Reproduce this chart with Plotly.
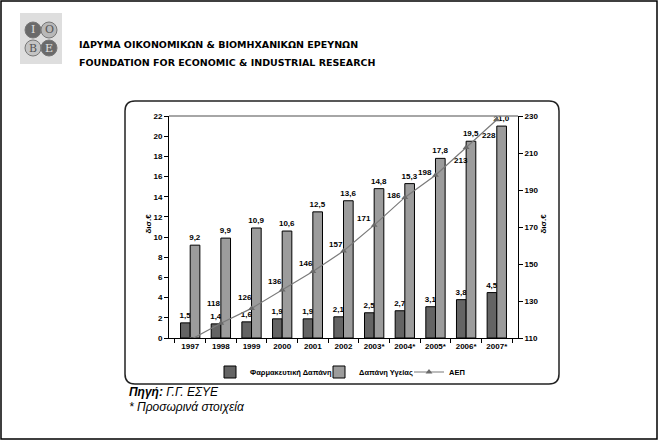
import plotly.graph_objects as go

years = ["1997", "1998", "1999", "2000", "2001", "2002", "2003*", "2004*", "2005*", "2006*", "2007*"]
pharma = [1.5, 1.4, 1.6, 1.9, 1.9, 2.1, 2.5, 2.7, 3.1, 3.8, 4.5]
health = [9.2, 9.9, 10.9, 10.6, 12.5, 13.6, 14.8, 15.3, 17.8, 19.5, 21.0]
gdp = [109, 118, 126, 136, 146, 157, 171, 186, 198, 213, 228]
# label offsets (pixels) for the GDP values
gdp_dx = [0, -7, -7, -7, -7, -8, -10, -11, -10, -5, -8]
gdp_dy = [0, 20, 11, 8, 8, 7, 7, 2, 3, -13, -16]

W, H = 659, 441
PL, PR, PT, PB = 169, 518, 116, 338


def X(px):
    return (px - PL) / (PR - PL)


def Y(py):
    return (PB - py) / (PB - PT)


def fmt(v):
    return f"{v:.1f}".replace(".", ",")


FONT = "Liberation Sans, Arial, sans-serif"
lblfont = dict(size=8, color="#000", family=FONT, weight="bold")

fig = go.Figure()
fig.add_trace(go.Bar(
    x=years, y=pharma, name="Φαρμακευτική Δαπάνη", legend="legend",
    marker=dict(color="#646464", line=dict(color="#000000", width=1)),
    text=[fmt(v) for v in pharma], textposition="outside", constraintext="none",
    textfont=lblfont, cliponaxis=False,
))
fig.add_trace(go.Bar(
    x=years, y=health, name="Δαπάνη Υγείας", legend="legend2",
    marker=dict(color="#9c9c9c", line=dict(color="#000000", width=1)),
    text=[fmt(v) for v in health], textposition="outside", constraintext="none",
    textfont=lblfont, cliponaxis=False,
))
fig.add_trace(go.Scatter(
    x=years, y=gdp, name="ΑΕΠ", yaxis="y2", mode="lines+markers", legend="legend3",
    line=dict(color="#7a7a7a", width=1.2),
    marker=dict(symbol="triangle-up", size=6, color="#6a6a6a"),
))

tickfont = dict(size=8, color="#000", family=FONT, weight="bold")
legfont = dict(size=7.5, color="#000", family=FONT, weight="bold")


def leg(px):
    return dict(orientation="h", x=X(px), y=Y(372), xanchor="left", yanchor="middle",
                font=legfont, itemwidth=30, bgcolor="rgba(0,0,0,0)")


fig.update_layout(
    width=W, height=H,
    margin=dict(l=PL, r=W - PR, t=PT, b=H - PB, pad=0, autoexpand=False),
    paper_bgcolor="white", plot_bgcolor="white",
    barmode="group", bargap=0.37, bargroupgap=0,
    showlegend=True,
    legend=leg(210), legend2=leg(319), legend3=leg(409),
    xaxis=dict(type="category", categoryorder="array", categoryarray=years,
               showgrid=False, showline=True, linecolor="#000", linewidth=1, automargin=False,
               ticks="outside", ticklen=4, tickcolor="#000", tickson="boundaries", tickangle=0,
               tickfont=tickfont, fixedrange=True),
    yaxis=dict(range=[0, 22], dtick=2, showgrid=False, showline=True, linecolor="#000",
               linewidth=1, ticks="outside", ticklen=4, tickcolor="#000", automargin=False,
               tickfont=tickfont, zeroline=False),
    yaxis2=dict(range=[110, 230], tick0=110, dtick=20, overlaying="y", side="right", showgrid=False,
                showline=True, linecolor="#000", linewidth=1, ticks="outside", ticklen=4,
                tickcolor="#000", tickfont=tickfont, zeroline=False, automargin=False),
)

shapes = []
# outer page border
shapes.append(dict(type="rect", xref="paper", yref="paper", x0=X(1), x1=X(657), y0=Y(439), y1=Y(1),
                   line=dict(color="#000", width=1.5), layer="below"))
# rounded chart frame
x0, x1, y0, y1 = 125, 559, 101, 384
r = 10
path = (f"M {X(x0 + r)} {Y(y0)} L {X(x1 - r)} {Y(y0)} Q {X(x1)} {Y(y0)} {X(x1)} {Y(y0 + r)} "
        f"L {X(x1)} {Y(y1 - r)} Q {X(x1)} {Y(y1)} {X(x1 - r)} {Y(y1)} "
        f"L {X(x0 + r)} {Y(y1)} Q {X(x0)} {Y(y1)} {X(x0)} {Y(y1 - r)} "
        f"L {X(x0)} {Y(y0 + r)} Q {X(x0)} {Y(y0)} {X(x0 + r)} {Y(y0)} Z")
shapes.append(dict(type="path", xref="paper", yref="paper", path=path,
                   line=dict(color="#222", width=1.5), layer="below"))
# top gray plot border
shapes.append(dict(type="line", xref="paper", yref="paper", x0=0, x1=1, y0=1, y1=1,
                   line=dict(color="#888", width=1.5)))
# logo
shapes.append(dict(type="rect", xref="paper", yref="paper", x0=X(20), x1=X(62), y0=Y(64), y1=Y(13),
                   fillcolor="#dedede", line=dict(width=0), layer="below"))
circ = [(33, 30, "#6a6a6a", "Ι", "#e0e0e0"), (49, 30, "#b8b8b8", "Ο", "#555"),
        (33, 48, "#c4c4c4", "Β", "#555"), (49, 48, "#6a6a6a", "Ε", "#e0e0e0")]
annotations = []
for cx, cy, col, letter, tcol in circ:
    shapes.append(dict(type="circle", xref="paper", yref="paper", x0=X(cx - 8), x1=X(cx + 8),
                       y0=Y(cy + 8), y1=Y(cy - 8), fillcolor=col, line=dict(color="#777", width=1)))
for cx, cy, col, letter, tcol in circ:
    annotations.append(dict(x=X(cx), y=Y(cy), xref="paper", yref="paper", text=letter,
                            xanchor="center", yanchor="middle",
                            showarrow=False, font=dict(size=11, color=tcol, family="DejaVu Serif")))

# GDP value labels
for i, (v, dx, dy) in enumerate(zip(gdp, gdp_dx, gdp_dy)):
    if v < 110:
        continue
    annotations.append(dict(x=i, y=v, xref="x", yref="y2", text=str(v), showarrow=False,
                            xshift=dx, yshift=dy, xanchor="center", yanchor="middle", font=lblfont))

hfont = dict(size=9.5, color="#000", family="DejaVu Sans", weight="bold")
annotations.append(dict(x=X(77), y=Y(44), xref="paper", yref="paper", xanchor="left", yanchor="middle",
                        text="ΙΔΡΥΜΑ ΟΙΚΟΝΟΜΙΚΩΝ &amp; ΒΙΟΜΗΧΑΝΙΚΩΝ ΕΡΕΥΝΩΝ", showarrow=False, font=hfont))
annotations.append(dict(x=X(77), y=Y(62), xref="paper", yref="paper", xanchor="left", yanchor="middle",
                        text="FOUNDATION FOR ECONOMIC &amp; INDUSTRIAL RESEARCH", showarrow=False, font=hfont))
# axis titles
afont = dict(size=8, color="#000", family=FONT, weight="bold")
annotations.append(dict(x=X(141), y=Y(224), xref="paper", yref="paper", text="δισ.€", textangle=-90,
                        showarrow=False, font=afont))
annotations.append(dict(x=X(549), y=Y(224), xref="paper", yref="paper", text="δισ.€", textangle=-90,
                        showarrow=False, font=afont))
# footer
ffont = dict(size=12, color="#000", family=FONT, style="italic")
annotations.append(dict(x=X(127), y=Y(392), xref="paper", yref="paper", xanchor="left", yanchor="middle",
                        text="<b>Πηγή:</b> Γ.Γ. ΕΣΥΕ", showarrow=False, font=ffont))
annotations.append(dict(x=X(127), y=Y(407), xref="paper", yref="paper", xanchor="left", yanchor="middle",
                        text="* Προσωρινά στοιχεία", showarrow=False, font=ffont))

fig.update_layout(shapes=shapes, annotations=annotations)
fig.write_html("out.html", config={"displayModeBar": False},
               post_script="document.body.style.margin='0';")
